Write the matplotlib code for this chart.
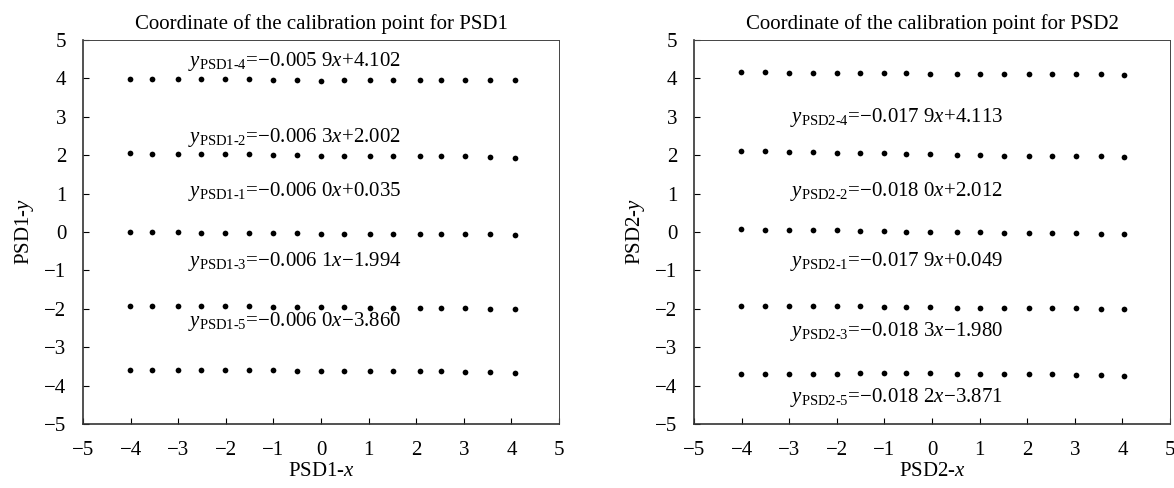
import matplotlib
matplotlib.use('Agg')
import matplotlib.pyplot as plt

plt.rcParams['font.family'] = ['Liberation Serif', 'DejaVu Serif']
plt.rcParams['mathtext.fontset'] = 'custom'
plt.rcParams['mathtext.rm'] = 'Liberation Serif'
plt.rcParams['mathtext.it'] = 'Liberation Serif:italic'

# calibration points
x1 = [-4.01, -3.55, -3.01, -2.53, -2.02, -1.52, -1.01, -0.50, 0.00, 0.49,
      1.02, 1.52, 2.08, 2.53, 3.03, 3.54, 4.07]
psd1_4 = [3.98, 3.98, 3.98, 3.98, 3.98, 3.98, 3.97, 3.96, 3.93, 3.96,
          3.96, 3.96, 3.96, 3.96, 3.96, 3.97, 3.97]
psd1_2 = [2.05, 2.04, 2.03, 2.03, 2.02, 2.02, 2.00, 2.00, 1.99, 1.99,
          1.99, 1.98, 1.98, 1.97, 1.97, 1.96, 1.94]
psd1_1 = [0.00, -0.01, -0.01, -0.02, -0.02, -0.02, -0.03, -0.03, -0.04, -0.04,
          -0.04, -0.05, -0.05, -0.06, -0.06, -0.06, -0.07]
psd1_3 = [-1.92, -1.92, -1.93, -1.93, -1.94, -1.94, -1.95, -1.95, -1.96, -1.96,
          -1.97, -1.97, -1.98, -1.98, -1.99, -2.00, -2.01]
psd1_5 = [-3.59, -3.59, -3.59, -3.59, -3.60, -3.60, -3.60, -3.61, -3.61, -3.61,
          -3.62, -3.62, -3.62, -3.63, -3.64, -3.64, -3.66]

x2 = [-4.01, -3.51, -3.00, -2.51, -2.00, -1.51, -1.00, -0.54, -0.04, 0.53,
      1.01, 1.52, 2.03, 2.52, 3.03, 3.55, 4.03]
psd2_4 = [4.16, 4.16, 4.15, 4.15, 4.15, 4.14, 4.14, 4.13, 4.12, 4.12,
          4.12, 4.12, 4.11, 4.11, 4.11, 4.11, 4.10]
psd2_2 = [2.11, 2.10, 2.09, 2.08, 2.07, 2.06, 2.05, 2.04, 2.02, 2.00,
          2.00, 1.99, 1.99, 1.98, 1.98, 1.97, 1.96]
psd2_1 = [0.07, 0.06, 0.05, 0.05, 0.04, 0.03, 0.02, 0.01, 0.00, -0.01,
          -0.01, -0.02, -0.02, -0.03, -0.03, -0.04, -0.05]
psd2_3 = [-1.92, -1.92, -1.93, -1.93, -1.94, -1.94, -1.95, -1.95, -1.96, -1.97,
          -1.97, -1.98, -1.98, -1.99, -1.99, -2.00, -2.01]
psd2_5 = [-3.70, -3.70, -3.69, -3.69, -3.69, -3.68, -3.68, -3.68, -3.68, -3.69,
          -3.69, -3.70, -3.70, -3.71, -3.72, -3.73, -3.75]

labels1 = ['1-4', '1-2', '1-1', '1-3', '1-5']
eqs1 = ['\u22120.005 9', '\u22120.006 3', '\u22120.006 0', '\u22120.006 1', '\u22120.006 0']
icpt1 = ['+4.102', '+2.002', '+0.035', '\u22121.994', '\u22123.860']
lab_y1 = [4.43, 2.47, 1.06, -0.77, -2.34]

labels2 = ['2-4', '2-2', '2-1', '2-3', '2-5']
eqs2 = ['\u22120.017 9', '\u22120.018 0', '\u22120.017 9', '\u22120.018 3', '\u22120.018 2']
icpt2 = ['+4.113', '+2.012', '+0.049', '\u22121.980', '\u22123.871']
lab_y2 = [2.99, 1.06, -0.77, -2.60, -4.32]

fig = plt.figure(figsize=(11.74, 4.88), dpi=100)
W, H = 1174.0, 488.0
ax1 = fig.add_axes([83 / W, 1 - 424 / H, 476 / W, 384 / H])
ax2 = fig.add_axes([694 / W, 1 - 424 / H, 476 / W, 384 / H])


def draw(ax, xs, rows, labels, eqs, icpts, lab_y, lab_x, n):
    for ys in rows:
        ax.scatter(xs, ys, s=17, color='black', zorder=3, linewidths=0)
    for lab, e, c, ly in zip(labels, eqs, icpts, lab_y):
        txt = r'$y_{\mathrm{PSD' + lab.replace('-', r'\text{-}') + r'}}$=' + e + r'$x$' + c
        ax.text(lab_x, ly, txt, fontsize=15, va='center', ha='left')
    ax.set_xlim(-5, 5)
    ax.set_ylim(-5, 5)
    ax.set_xticks(range(-5, 6))
    ax.set_yticks(range(-5, 6))
    ax.tick_params(direction='in', length=4, width=0.8, labelsize=15,
                   top=False, right=False)
    ax.tick_params(axis='x', pad=12)
    ax.tick_params(axis='y', pad=12)
    for s in ['top', 'right']:
        ax.spines[s].set_linewidth(0.7)
        ax.spines[s].set_color('#444444')
    for s in ['left', 'bottom']:
        ax.spines[s].set_linewidth(1.2)
        ax.spines[s].set_color('#333333')
    ax.set_title('Coordinate of the calibration point for PSD' + n, fontsize=15, pad=8)
    ax.set_xlabel('PSD' + n + '-$x$', fontsize=15, labelpad=2)
    ax.set_ylabel('PSD' + n + '-$y$', fontsize=15, labelpad=6)


draw(ax1, x1, [psd1_4, psd1_2, psd1_1, psd1_3, psd1_5], labels1, eqs1, icpt1, lab_y1, -2.79, '1')
draw(ax2, x2, [psd2_4, psd2_2, psd2_1, psd2_3, psd2_5], labels2, eqs2, icpt2, lab_y2, -2.99, '2')

fig.savefig('out.png', dpi=100)
